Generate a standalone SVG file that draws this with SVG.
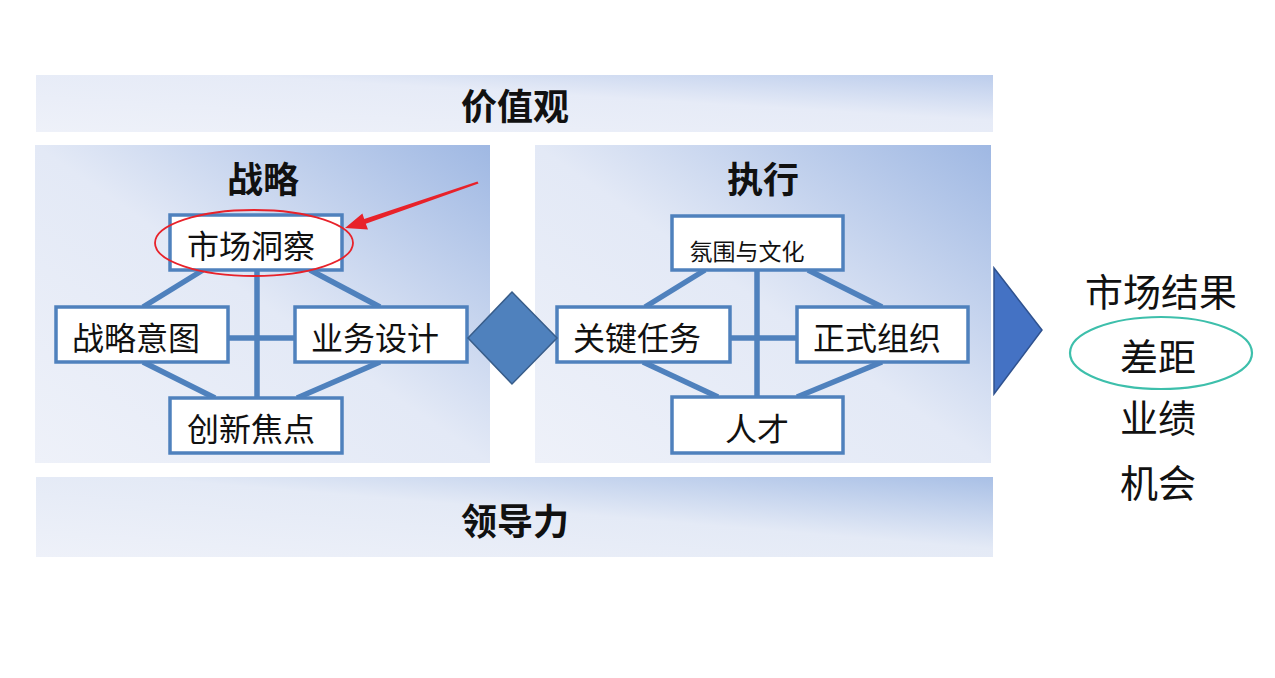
<svg xmlns="http://www.w3.org/2000/svg" width="1275" height="678" viewBox="0 0 1275 678">
<defs>
<linearGradient id="gPanel" x1="0" y1="1" x2="1" y2="0">
<stop offset="0" stop-color="#eef1f9"/>
<stop offset="0.5" stop-color="#e3e9f6"/>
<stop offset="1" stop-color="#9fb8e3"/>
</linearGradient>
<linearGradient id="gBar" x1="0" y1="1" x2="1" y2="0">
<stop offset="0" stop-color="#eef1f9"/>
<stop offset="0.55" stop-color="#e4eaf6"/>
<stop offset="1" stop-color="#a9c0e6"/>
</linearGradient>
<linearGradient id="gTop" x1="0" y1="1" x2="1" y2="0">
<stop offset="0" stop-color="#eef1f9"/>
<stop offset="0.6" stop-color="#e6ebf7"/>
<stop offset="1" stop-color="#bccdec"/>
</linearGradient>
</defs>
<style>
.t{font-family:"Noto Sans CJK SC","Microsoft YaHei",sans-serif;fill:#111;text-anchor:middle;dominant-baseline:central}
.b{font-weight:bold;font-size:36px}
.n{font-size:32px}
.r{font-size:38px}
.box{fill:#fff;stroke:#4f81bd;stroke-width:3.5}
.ln{stroke:#4f81bd;stroke-width:5.5;fill:none}
</style>
<rect x="36" y="75" width="957" height="57" fill="url(#gTop)"/>
<text class="t b" x="515" y="104">价值观</text>
<rect x="35" y="145" width="455" height="318" fill="url(#gPanel)"/>
<text class="t b" x="263" y="177">战略</text>
<rect x="535" y="145" width="456" height="318" fill="url(#gPanel)"/>
<text class="t b" x="763" y="177">执行</text>
<rect x="36" y="477" width="957" height="80" fill="url(#gBar)"/>
<text class="t b" x="515" y="519">领导力</text>
<g id="connectors">
<line class="ln" x1="257" y1="270" x2="257" y2="398"/>
<line class="ln" x1="228" y1="338" x2="295" y2="338"/>
<line class="ln" x1="203" y1="270" x2="143" y2="307"/>
<line class="ln" x1="310" y1="270" x2="380" y2="307"/>
<line class="ln" x1="143" y1="362" x2="215" y2="398"/>
<line class="ln" x1="380" y1="362" x2="297" y2="398"/>
<line class="ln" x1="757" y1="270" x2="757" y2="397"/>
<line class="ln" x1="730" y1="338" x2="797" y2="338"/>
<line class="ln" x1="705" y1="270" x2="645" y2="307"/>
<line class="ln" x1="808" y1="270" x2="882" y2="307"/>
<line class="ln" x1="643" y1="362" x2="718" y2="397"/>
<line class="ln" x1="882" y1="362" x2="797" y2="397"/>
</g>
<g id="n-scdc"><rect class="box" x="170" y="215" width="172" height="55"/><text class="t n" x="251" y="244">市场洞察</text></g>
<g id="n-zlyt"><rect class="box" x="56" y="307" width="172" height="55"/><text class="t n" x="136" y="336">战略意图</text></g>
<g id="n-ywsj"><rect class="box" x="295" y="307" width="172" height="55"/><text class="t n" x="375" y="336">业务设计</text></g>
<g id="n-cxjd"><rect class="box" x="170" y="398" width="172" height="55"/><text class="t n" x="251" y="427">创新焦点</text></g>
<g id="n-fwwh"><rect class="box" x="672" y="216" width="171" height="54"/><text class="t" style="font-size:23px" x="747" y="250">氛围与文化</text></g>
<g id="n-gjrw"><rect class="box" x="557" y="307" width="173" height="55"/><text class="t n" x="637" y="336">关键任务</text></g>
<g id="n-zszz"><rect class="box" x="797" y="307" width="171" height="55"/><text class="t n" x="877" y="336">正式组织</text></g>
<g id="n-rc"><rect class="box" x="672" y="397" width="171" height="56"/><text class="t n" x="757" y="427">人才</text></g>
<g id="diamond"><polygon points="512,292 557,338 512,384 468,338" fill="#4f81bd" stroke="#385d8a" stroke-width="1.5"/></g>
<g id="triangle"><polygon points="994,268 1042,330 994,394" fill="#4472c4" stroke="#2f528f" stroke-width="1.5"/></g>
<g id="highlight">
<ellipse cx="254" cy="243" rx="99" ry="33" fill="none" stroke="#e8222a" stroke-width="1.8"/>
<polygon points="477.5,181.5 478.5,183.5 365.8,223.8 368,229.5 345,228 362.4,213.5 364.2,219" fill="#e8222a"/>
</g>
<g id="results">
<text class="t r" x="1161" y="289">市场结果</text>
<ellipse cx="1161" cy="353" rx="91" ry="36" fill="none" stroke="#3dbfab" stroke-width="2.2"/>
<text class="t r" x="1158" y="354">差距</text>
<text class="t r" x="1158" y="415">业绩</text>
<text class="t r" x="1158" y="480">机会</text>
</g>
</svg>
